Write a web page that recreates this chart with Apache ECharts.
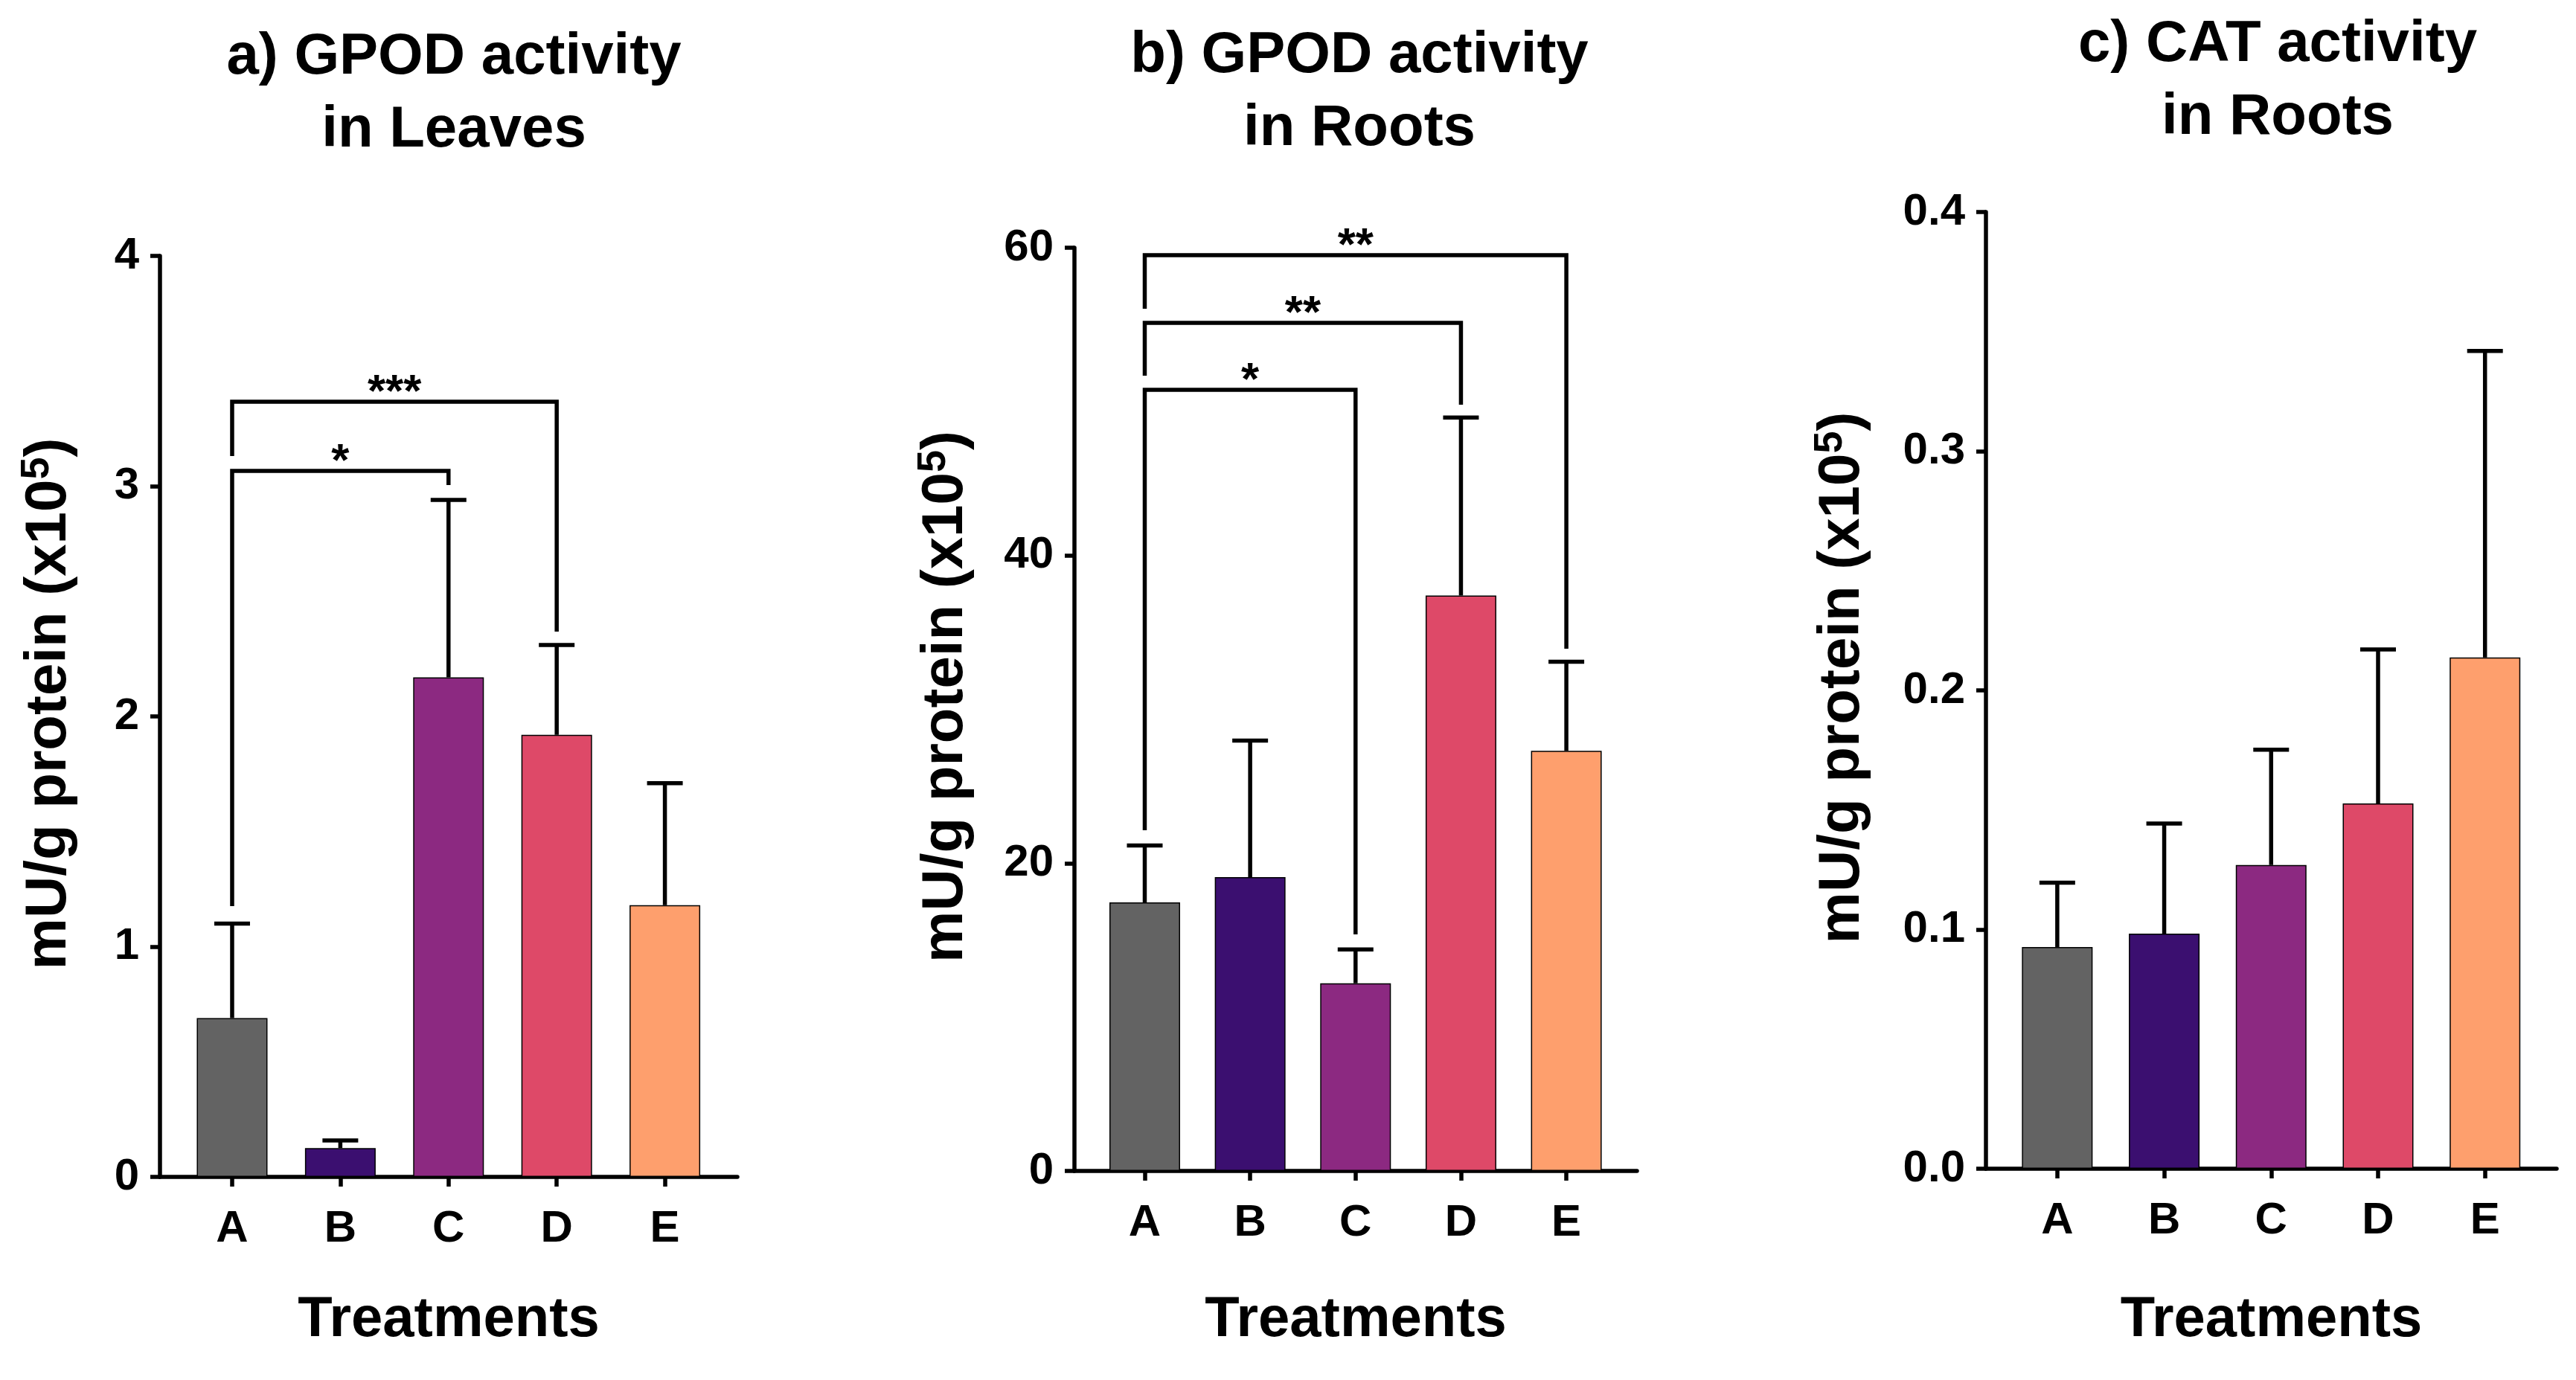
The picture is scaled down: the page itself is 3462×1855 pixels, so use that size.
<!DOCTYPE html>
<html>
<head>
<meta charset="utf-8">
<script src="https://cdn.jsdelivr.net/npm/echarts@6/dist/echarts.min.js"></script>
<style>
html,body{margin:0;padding:0;background:#fff;}
#chart{width:3462px;height:1855px;}
</style>
</head>
<body>
<div id="chart"></div>
<script>
// ---------- data ----------
const categories = ['A', 'B', 'C', 'D', 'E'];
const barColors = ['#636363', '#3b0f70', '#8c2981', '#de4968', '#fe9f6d'];

const titles = ['a) GPOD activity\nin Leaves', 'b) GPOD activity\nin Roots', 'c) CAT activity\nin Roots'];

// panel a: GPOD activity in leaves (mean, mean+SD)
const gpodLeavesMean = [0.69, 0.125, 2.17, 1.92, 1.18];
const gpodLeavesUpper = [1.10, 0.158, 2.94, 2.31, 1.71];
// panel b: GPOD activity in roots
const gpodRootsMean = [17.45, 19.1, 12.2, 37.4, 27.3];
const gpodRootsUpper = [21.15, 27.97, 14.4, 48.97, 33.1];
// panel c: CAT activity in roots
const catRootsMean = [0.0927, 0.0983, 0.127, 0.1527, 0.2138];
const catRootsUpper = [0.1196, 0.1443, 0.1752, 0.2171, 0.3419];

// y axis ticks
const yTicksA = [0, 1, 2, 3, 4];
const yTicksB = [0, 20, 40, 60];
const yTicksC = [0.0, 0.1, 0.2, 0.3, 0.4];

// significance brackets: [from category, to category, bracket height, left leg bottom, right leg bottom]
const leavesBrackets = [[0, 2, 3.066, 1.176, 3.005], [0, 3, 3.367, 3.131, 2.368]];
const leavesBracketLabels = ['*', '***'];
const rootsBrackets = [[0, 2, 50.77, 22.14, 15.37], [0, 3, 55.12, 51.68, 49.80], [0, 4, 59.52, 56.04, 33.94]];
const rootsBracketLabels = ['*', '**', '**'];

const yName = '{n|mU/g protein (x10}{s|5}{n|)}';
const xName = 'Treatments';

// ---------- build ----------
const FONT = '"Liberation Sans", Arial, Helvetica, sans-serif';
const LW = 5.5;
const panels = [
  {mean: gpodLeavesMean, upper: gpodLeavesUpper, ticks: yTicksA, dec: 0, brackets: leavesBrackets, labels: leavesBracketLabels,
   grid: {left: 215, top: 344, width: 776, height: 1238}, nameGap: 106, xNameGap: 155, titleX: 605, titleTop: 23},
  {mean: gpodRootsMean, upper: gpodRootsUpper, ticks: yTicksB, dec: 0, brackets: rootsBrackets, labels: rootsBracketLabels,
   grid: {left: 1444, top: 333, width: 756, height: 1241}, nameGap: 130, xNameGap: 163, titleX: 1822, titleTop: 21},
  {mean: catRootsMean, upper: catRootsUpper, ticks: yTicksC, dec: 1, brackets: [], labels: [],
   grid: {left: 2669, top: 285, width: 767, height: 1286}, nameGap: 150, xNameGap: 166, titleX: 3056, titleTop: 6}
];

const catIdx = categories.map((c, i) => i);
const option = {
  animation: false,
  backgroundColor: '#fff',
  title: [], grid: [], xAxis: [], yAxis: [], series: []
};

panels.forEach((p, k) => {
  option.title.push({
    text: titles[k], left: p.titleX, top: p.titleTop, textAlign: 'center',
    textStyle: {fontFamily: FONT, fontWeight: 'bold', fontSize: 78, lineHeight: 98, color: '#000'}
  });
  option.grid.push(Object.assign({outerBoundsMode: 'none', containLabel: false}, p.grid));
  option.xAxis.push({
    type: 'value', gridIndex: k, min: -0.667, max: 4.67,
    name: xName, nameLocation: 'middle', nameGap: p.xNameGap,
    nameTextStyle: {fontFamily: FONT, fontWeight: 'bold', fontSize: 76, color: '#000'},
    axisLine: {onZero: false, lineStyle: {color: '#000', width: LW}},
    axisTick: {show: true, customValues: catIdx, length: 13, lineStyle: {color: '#000', width: LW}},
    axisLabel: {customValues: catIdx, formatter: v => categories[Math.round(v)] || '', margin: 40,
      fontFamily: FONT, fontWeight: 'bold', fontSize: 60, color: '#000'},
    splitLine: {show: false}
  });
  const tks = p.ticks;
  option.yAxis.push({
    type: 'value', gridIndex: k, min: tks[0], max: tks[tks.length - 1], interval: tks[1] - tks[0],
    name: yName, nameLocation: 'middle', nameGap: p.nameGap,
    nameTextStyle: {padding: [0, 0, 0, 34], rich: {
      n: {fontFamily: FONT, fontWeight: 'bold', fontSize: 78, lineHeight: 86, color: '#000'},
      s: {fontFamily: FONT, fontWeight: 'bold', fontSize: 54, lineHeight: 30, verticalAlign: 'top', color: '#000'}
    }},
    axisLine: {show: true, onZero: false, lineStyle: {color: '#000', width: LW}},
    axisTick: {show: true, length: 13, lineStyle: {color: '#000', width: LW}},
    axisLabel: {margin: 28, fontFamily: FONT, fontWeight: 'bold', fontSize: 60, color: '#000',
      formatter: v => v.toFixed(p.dec)},
    splitLine: {show: false}
  });
  option.series.push({
    type: 'bar', xAxisIndex: k, yAxisIndex: k, barWidth: 95, z: 2,
    data: p.mean.map((v, i) => ({value: [i, v], itemStyle: {color: barColors[i], borderColor: '#000', borderWidth: 1.5}}))
  });
  option.series.push({
    type: 'custom', xAxisIndex: k, yAxisIndex: k, z: 3,
    data: p.mean.map((v, i) => [i, v, p.upper[i]]),
    renderItem: function (params, api) {
      const a = api.coord([api.value(0), api.value(1)]);
      const b = api.coord([api.value(0), api.value(2)]);
      const st = {stroke: '#000', lineWidth: LW};
      return {type: 'group', children: [
        {type: 'line', shape: {x1: a[0], y1: a[1], x2: b[0], y2: b[1]}, style: st},
        {type: 'line', shape: {x1: b[0] - 24, y1: b[1], x2: b[0] + 24, y2: b[1]}, style: st}
      ]};
    }
  });
  if (p.brackets.length) {
    option.series.push({
      type: 'custom', xAxisIndex: k, yAxisIndex: k, z: 4,
      data: p.brackets,
      renderItem: function (params, api) {
        const x1 = api.value(0), x2 = api.value(1), y = api.value(2), yl = api.value(3), yr = api.value(4);
        const pl = api.coord([x1, yl]), plt = api.coord([x1, y]), prt = api.coord([x2, y]), pr = api.coord([x2, yr]);
        return {type: 'group', children: [
          {type: 'polyline', shape: {points: [pl, plt, prt, pr]}, style: {stroke: '#000', lineWidth: LW, fill: null}},
          {type: 'text', style: {text: p.labels[params.dataIndex], x: (plt[0] + prt[0]) / 2, y: plt[1] - 11,
            align: 'center', verticalAlign: 'middle', fontFamily: FONT, fontWeight: 'bold', fontSize: 62, fill: '#000'}}
        ]};
      }
    });
  }
});

const chart = echarts.init(document.getElementById('chart'), null, {renderer: 'canvas'});
chart.setOption(option);
</script>
</body>
</html>
